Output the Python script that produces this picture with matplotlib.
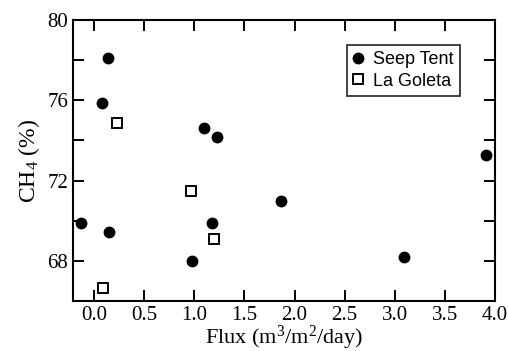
import numpy as np
import matplotlib.pyplot as plt

# Seep Tent (filled circles)
seep_flux = [0.14, 0.08, 1.10, 1.23, 3.91, -0.13, 0.15, 1.18, 0.98, 1.87, 3.09]
seep_ch4 = [78.13, 75.85, 74.6, 74.15, 73.25, 69.9, 69.45, 69.9, 68.0, 70.97, 68.2]

# La Goleta (open squares)
goleta_flux = [0.23, 0.97, 1.20, 0.09]
goleta_ch4 = [74.85, 71.47, 69.08, 66.65]

xticks = [0.0, 0.5, 1.0, 1.5, 2.0, 2.5, 3.0, 3.5, 4.0]
yticks = [68, 72, 76, 80]

plt.rcParams['font.family'] = 'Liberation Serif'
plt.rcParams['mathtext.fontset'] = 'custom'
plt.rcParams['mathtext.rm'] = 'Liberation Serif'
plt.rcParams['mathtext.it'] = 'Liberation Serif:italic'

fig = plt.figure(figsize=(5.08, 3.51), dpi=100)
ax = fig.add_axes([0.1437, 0.1425, 0.8307, 0.8005])

ax.plot(seep_flux, seep_ch4, 'o', color='black', markersize=7.5,
        linestyle='none', label='Seep Tent')
ax.plot(goleta_flux, goleta_ch4, 's', markerfacecolor='white',
        markeredgecolor='black', markeredgewidth=1.4, markersize=7.5,
        linestyle='none', label='La Goleta')

ax.set_xlim(-0.21, 4.0)
ax.set_ylim(66, 80)
ax.set_xticks(xticks)
ax.set_xticklabels(['%.1f' % t for t in xticks])
ax.set_yticks(yticks)
ax.set_yticks([70, 74, 78], minor=True)
ax.tick_params(which='both', direction='in', top=True, right=True,
               length=8, width=1.4, labelsize=15)

for s in ax.spines.values():
    s.set_linewidth(1.5)

ax.set_xlabel('Flux (m$\\mathrm{^3}$/m$\\mathrm{^2}$/day)', fontsize=16, labelpad=-1)
ax.set_ylabel('CH$\\mathrm{_4}$ (%)', fontsize=17, labelpad=4)

leg = ax.legend(loc='upper right', bbox_to_anchor=(0.925, 0.925),
                prop={'family': 'Liberation Sans', 'size': 13},
                frameon=True, fancybox=False, edgecolor='black',
                handlelength=0.6, handletextpad=0.5, borderpad=0.35,
                labelspacing=0.25, borderaxespad=0.2)
leg.get_frame().set_linewidth(1.3)

fig.savefig('out.png', dpi=100)
